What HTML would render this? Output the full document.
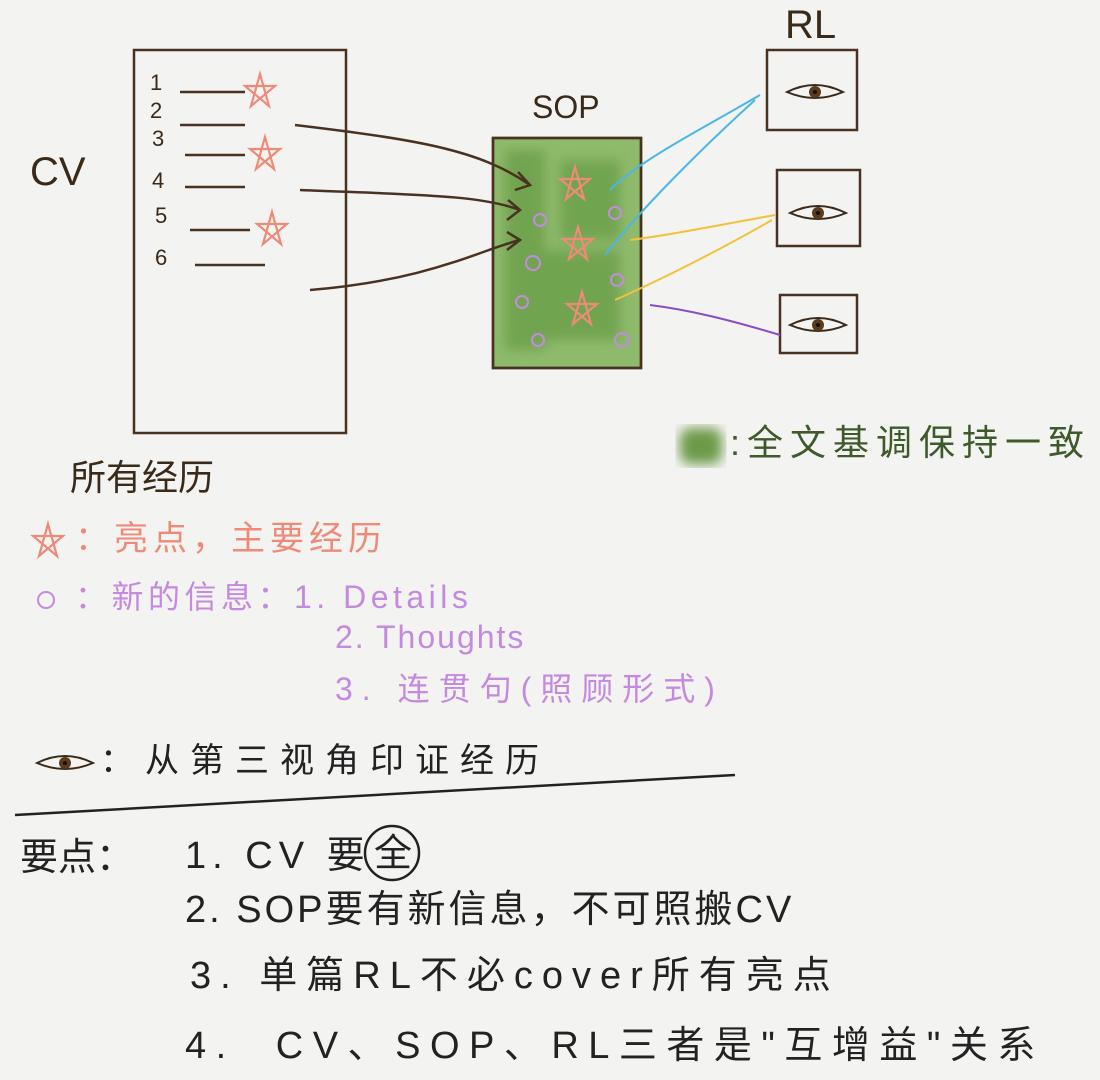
<!DOCTYPE html>
<html><head><meta charset="utf-8"><style>
body{margin:0;background:#f3f3f1;}
svg{display:block}
text{font-family:"Liberation Sans","Noto Sans CJK SC",sans-serif;}
</style></head><body>
<svg width="1100" height="1080" viewBox="0 0 1100 1080" xmlns="http://www.w3.org/2000/svg">
<defs>
<filter id="blur"><feGaussianBlur stdDeviation="6"/></filter>
<g id="star"><path d="M0,-18 L9,14 L-15,-6 L15,-6 L-9,14 Z" fill="none" stroke="#ee8a78" stroke-width="2.2"/></g>
<g id="eye"><path d="M-28,0 Q0,-14 28,0 Q0,12 -28,0 Z" fill="none" stroke="#3a2a1a" stroke-width="2"/><circle r="6" fill="#5a3a1a"/><circle r="2" fill="#111"/></g>
</defs>
<rect width="1100" height="1080" fill="#f3f3f1"/>
<g stroke="#4a3222" stroke-width="2.5" fill="none">
<rect x="134" y="50" width="212" height="383"/>
<rect x="493" y="138" width="148" height="230" fill="#8fba6c" />
</g>
<g filter="url(#blur)" fill="#6a9f48" opacity="0.8">
<rect x="505" y="150" width="40" height="200"/><rect x="560" y="160" width="60" height="80"/><rect x="540" y="250" width="80" height="90"/>
</g>
<rect x="493" y="138" width="148" height="230" fill="none" stroke="#4a3222" stroke-width="2.5"/>
<g stroke="#4a3222" stroke-width="2.5" fill="none">
<rect x="767" y="50" width="90" height="80"/>
<rect x="777" y="170" width="83" height="76"/>
<rect x="780" y="295" width="77" height="58"/>
<line x1="180" y1="92" x2="245" y2="92"/><line x1="180" y1="125" x2="245" y2="125"/>
<line x1="185" y1="155" x2="245" y2="155"/><line x1="185" y1="187" x2="245" y2="187"/>
<line x1="190" y1="230" x2="250" y2="230"/><line x1="195" y1="265" x2="265" y2="265"/>
<path d="M295,125 C420,140 480,150 530,185"/><path d="M518,172 L530,185 L515,190"/>
<path d="M300,190 C420,195 480,195 520,210"/><path d="M508,200 L520,210 L507,220"/>
<path d="M310,290 C430,280 480,250 520,240"/><path d="M507,232 L520,240 L507,250"/>
<path d="M15,815 L735,775" stroke="#222"/>
<circle cx="392" cy="853" r="27" stroke="#222"/>
</g>
<g font-size="22" fill="#3a2a1a"><text x="150" y="90">1</text><text x="150" y="118">2</text><text x="152" y="146">3</text><text x="152" y="188">4</text><text x="155" y="223">5</text><text x="155" y="265">6</text></g>
<text x="30" y="185" font-size="40" fill="#3a2a1a">CV</text>
<text x="532" y="118" font-size="32" fill="#3a2a1a">SOP</text>
<text x="785" y="38" font-size="40" fill="#3a2a1a">RL</text>
<use href="#star" x="260" y="92"/><use href="#star" x="265" y="155"/><use href="#star" x="272" y="230"/>
<use href="#star" x="575" y="185"/><use href="#star" x="578" y="245"/><use href="#star" x="582" y="310"/>
<g fill="none" stroke="#c48ae0" stroke-width="2"><circle cx="540" cy="220" r="6"/><circle cx="615" cy="213" r="6"/><circle cx="533" cy="263" r="7"/><circle cx="522" cy="302" r="6"/><circle cx="538" cy="340" r="6"/><circle cx="622" cy="340" r="7"/><circle cx="617" cy="280" r="6"/></g>
<use href="#eye" x="815" y="92"/><use href="#eye" x="818" y="213"/><use href="#eye" x="818" y="325"/>
<g fill="none" stroke="#4ab6e8" stroke-width="2"><path d="M760,95 C700,130 640,160 610,190"/><path d="M755,100 C700,150 640,210 605,255"/></g>
<g fill="none" stroke="#f2c23a" stroke-width="2"><path d="M775,215 C720,225 670,235 630,240"/><path d="M772,220 C720,250 660,280 615,300"/></g>
<path d="M780,335 C730,320 690,310 650,305" fill="none" stroke="#8a4cc8" stroke-width="2"/>
<rect x="680" y="428" width="42" height="36" rx="10" fill="#6d9a48" filter="url(#blur)"/>
<text x="730" y="455" font-size="36" fill="#3f5a2a" letter-spacing="7">:全文基调保持一致</text>
<text x="70" y="490" font-size="36" fill="#3a2a1a">所有经历</text>
<use href="#star" x="48" y="542"/>
<text x="75" y="550" font-size="34" fill="#ee8a78" letter-spacing="5">：亮点，主要经历</text>
<circle cx="46" cy="600" r="8" fill="none" stroke="#c48ae0" stroke-width="2"/>
<g font-size="32" fill="#c48ae0"><text x="75" y="608" letter-spacing="4.5">：新的信息：1. Details</text><text x="335" y="648" letter-spacing="2">2. Thoughts</text><text x="335" y="700" letter-spacing="9">3. 连贯句(照顾形式)</text></g>
<use href="#eye" x="65" y="763"/>
<text x="100" y="772" font-size="34" fill="#222" letter-spacing="11">：从第三视角印证经历</text>
<g font-size="38" fill="#222"><text x="20" y="870">要点：</text><text x="185" y="868" letter-spacing="6">1. CV 要</text><text x="374" y="866">全</text>
<text x="185" y="922" letter-spacing="3">2. SOP要有新信息，不可照搬CV</text>
<text x="190" y="988" letter-spacing="9">3. 单篇RL不必cover所有亮点</text>
<text x="185" y="1058" letter-spacing="9.5">4.&#160;&#160;CV、SOP、RL三者是"互增益"关系</text></g>
</svg>
</body></html>
